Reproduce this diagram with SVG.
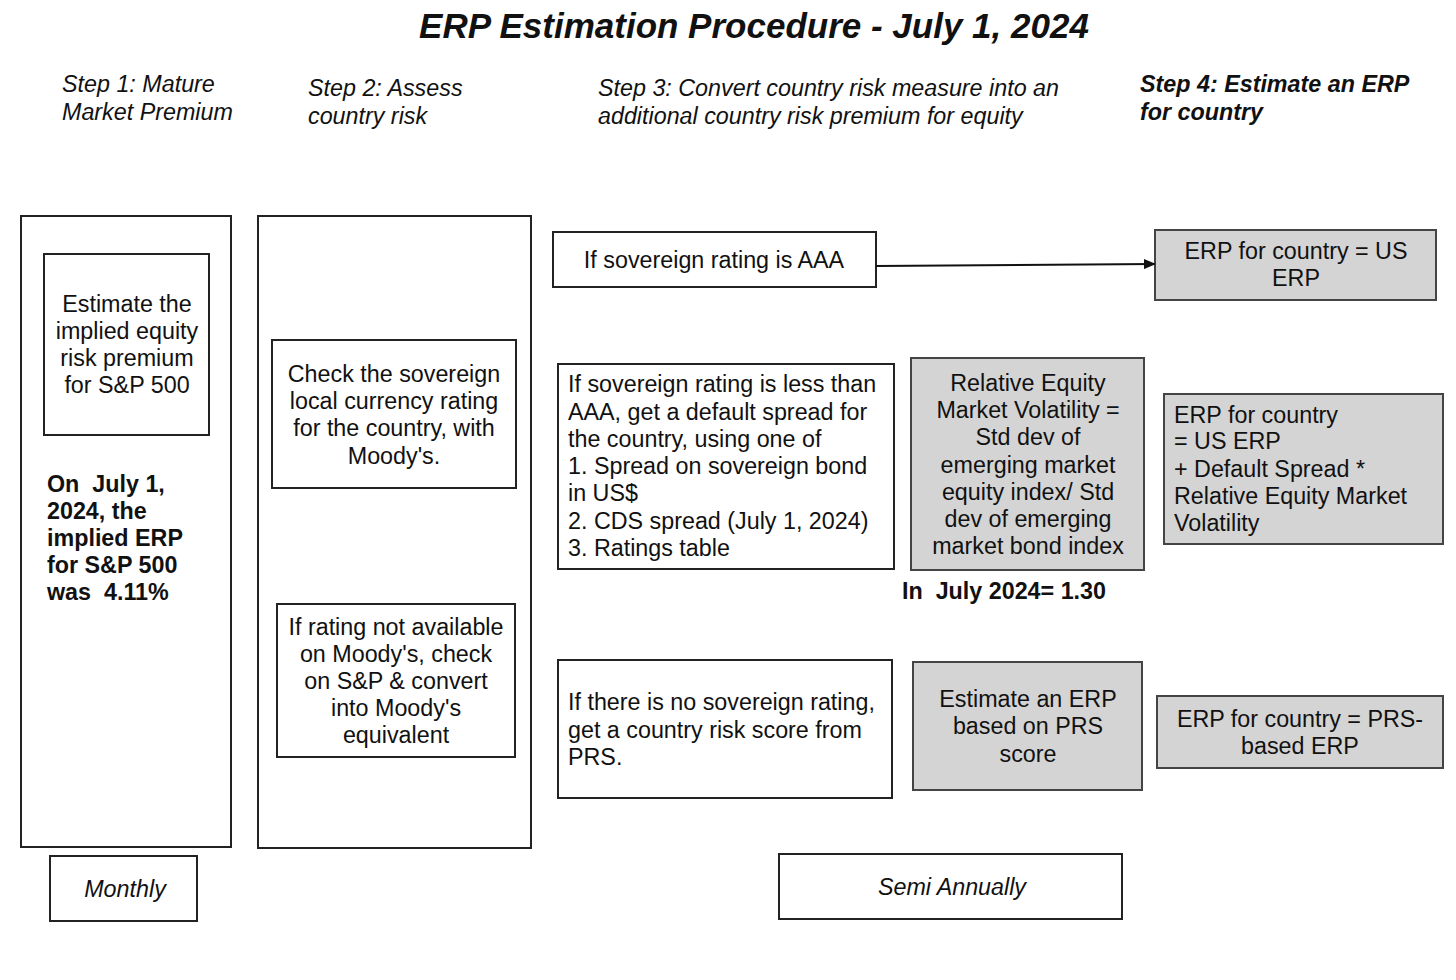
<svg xmlns="http://www.w3.org/2000/svg" width="1456" height="980" viewBox="0 0 1456 980">
<defs>
<marker id="arr" markerWidth="12" markerHeight="10" refX="11" refY="5" orient="auto" markerUnits="userSpaceOnUse">
<path d="M0,0 L12,5 L0,10 z" fill="#111"/>
</marker>
<style>
text{font-family:"Liberation Sans",Arial,sans-serif;fill:#111;font-size:23.3px;white-space:pre}
.t{font-size:35px;font-weight:bold;font-style:italic}
.h{font-style:italic}
.hb{font-style:italic;font-weight:bold}
.b{font-weight:bold}
.c{text-anchor:middle}
.i{font-style:italic}
.box{fill:#fff;stroke:#222;stroke-width:2}
.gbox{fill:#d4d4d4;stroke:#444;stroke-width:2}
.conn{stroke:#111;stroke-width:2;fill:none}
</style>
</defs>
<rect width="1456" height="980" fill="#fff"/>
<text class="t c" x="754" y="38">ERP Estimation Procedure - July 1, 2024</text>
<g id="headers">
<text class="h" x="62" y="92">Step 1: Mature</text>
<text class="h" x="62" y="120">Market Premium</text>
<text class="h" x="308" y="96">Step 2: Assess</text>
<text class="h" x="308" y="124">country risk</text>
<text class="h" x="598" y="96">Step 3: Convert country risk measure into an</text>
<text class="h" x="598" y="124">additional country risk premium for equity</text>
<text class="hb" x="1140" y="92">Step 4: Estimate an ERP</text>
<text class="hb" x="1140" y="120">for country</text>
</g>
<g id="col1">
<rect class="box" x="21" y="216" width="210" height="631"/>
</g>
<g id="implied">
<rect class="box" x="44" y="254" width="165" height="181"/>
<text class="c" x="127" y="312">Estimate the</text>
<text class="c" x="127" y="339">implied equity</text>
<text class="c" x="127" y="366">risk premium</text>
<text class="c" x="127" y="393">for S&amp;P 500</text>
</g>
<g id="sp500note">
<text class="b" x="47" y="492" xml:space="preserve">On  July 1,</text>
<text class="b" x="47" y="519">2024, the</text>
<text class="b" x="47" y="546">implied ERP</text>
<text class="b" x="47" y="573">for S&amp;P 500</text>
<text class="b" x="47" y="600" xml:space="preserve">was  4.11%</text>
</g>
<g id="monthly">
<rect class="box" x="50" y="856" width="147" height="65"/>
<text class="c i" x="125" y="897">Monthly</text>
</g>
<g id="col2">
<rect class="box" x="258" y="216" width="273" height="632"/>
</g>
<g id="moodys">
<rect class="box" x="272" y="340" width="244" height="148"/>
<text class="c" x="394" y="382">Check the sovereign</text>
<text class="c" x="394" y="409">local currency rating</text>
<text class="c" x="394" y="436">for the country, with</text>
<text class="c" x="394" y="464">Moody's.</text>
</g>
<g id="sp">
<rect class="box" x="277" y="604" width="238" height="153"/>
<text class="c" x="396" y="635">If rating not available</text>
<text class="c" x="396" y="662">on Moody's, check</text>
<text class="c" x="396" y="689">on S&amp;P &amp; convert</text>
<text class="c" x="396" y="716">into Moody's</text>
<text class="c" x="396" y="743">equivalent</text>
</g>
<g id="aaa">
<rect class="box" x="553" y="232" width="323" height="55"/>
<text class="c" x="714" y="268">If sovereign rating is AAA</text>
</g>
<g id="useerp">
<rect class="gbox" x="1155" y="230" width="281" height="70"/>
<text class="c" x="1296" y="259">ERP for country = US</text>
<text class="c" x="1296" y="286">ERP</text>
</g>
<g id="lessaaa">
<rect class="box" x="558" y="364" width="336" height="205"/>
<text x="568" y="392">If sovereign rating is less than</text>
<text x="568" y="420">AAA, get a default spread for</text>
<text x="568" y="447">the country, using one of</text>
<text x="568" y="474">1. Spread on sovereign bond</text>
<text x="568" y="501">in US$</text>
<text x="568" y="529">2. CDS spread (July 1, 2024)</text>
<text x="568" y="556">3. Ratings table</text>
</g>
<g id="relvol">
<rect class="gbox" x="911" y="358" width="233" height="212"/>
<text class="c" x="1028" y="391">Relative Equity</text>
<text class="c" x="1028" y="418">Market Volatility =</text>
<text class="c" x="1028" y="445">Std dev of</text>
<text class="c" x="1028" y="473">emerging market</text>
<text class="c" x="1028" y="500">equity index/ Std</text>
<text class="c" x="1028" y="527">dev of emerging</text>
<text class="c" x="1028" y="554">market bond index</text>
</g>
<text class="b" x="902" y="599" xml:space="preserve">In  July 2024= 1.30</text>
<g id="erpformula">
<rect class="gbox" x="1164" y="394" width="279" height="150"/>
<text x="1174" y="423">ERP for country</text>
<text x="1174" y="449">= US ERP</text>
<text x="1174" y="477">+ Default Spread *</text>
<text x="1174" y="504">Relative Equity Market</text>
<text x="1174" y="531">Volatility</text>
</g>
<g id="norating">
<rect class="box" x="558" y="660" width="334" height="138"/>
<text x="568" y="710">If there is no sovereign rating,</text>
<text x="568" y="738">get a country risk score from</text>
<text x="568" y="765">PRS.</text>
</g>
<g id="prs">
<rect class="gbox" x="913" y="662" width="229" height="128"/>
<text class="c" x="1028" y="707">Estimate an ERP</text>
<text class="c" x="1028" y="734">based on PRS</text>
<text class="c" x="1028" y="762">score</text>
</g>
<g id="prserp">
<rect class="gbox" x="1157" y="696" width="286" height="72"/>
<text class="c" x="1300" y="727">ERP for country = PRS-</text>
<text class="c" x="1300" y="754">based ERP</text>
</g>
<g id="semi">
<rect class="box" x="779" y="854" width="343" height="65"/>
<text class="c i" x="952" y="895">Semi Annually</text>
</g>
<g id="connectors">
<path class="conn" d="M876,266 L1155,264" marker-end="url(#arr)"/>
</g>
</svg>
